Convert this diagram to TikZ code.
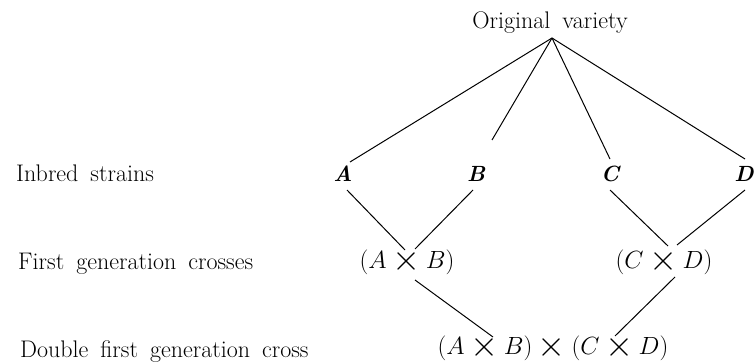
\documentclass[tikz,border=0pt]{standalone}
\usepackage{graphicx}
\newcommand\bigx{\mathbin{\vcenter{\hbox{\scalebox{1.45}{$\times$}}}}}
\newcommand\labfont{\fontsize{24}{28}\selectfont\spaceskip=12pt plus 3pt minus 2pt\relax}
\tikzset{
  lbl/.style={anchor=base west, inner sep=0pt},
  strain/.style={anchor=base, inner sep=0pt, font=\fontsize{22}{26}\selectfont\bfseries\itshape},
  crossn/.style={anchor=base, inner sep=0pt},
  link/.style={line width=1pt}
}
\begin{document}
\begin{tikzpicture}[x=1pt,y=-1pt, every node/.style={font=\labfont}]
\useasboundingbox (0,0) rectangle (754,363);
\node[crossn] (orig) at (550,29) {Original variety};
\node[lbl] (l1) at (16,182) {Inbred strains};
\node[lbl] (l2) at (18,269) {First generation crosses};
\node[lbl] (l3) at (20,357) {Double first generation cross};
\node[strain] (A) at (343,182) {A};
\node[strain] (B) at (476,182) {B};
\node[strain] (C) at (610,182) {C};
\node[strain] (D) at (744,182) {D};
\node[crossn] (ab) at (407,268) {$(A\bigx B)$};
\node[crossn] (cd) at (664,268) {$(C\bigx D)$};
\node[crossn] (dbl) at (553,354) {$(A\bigx B)\bigx(C\bigx D)$};
\draw[link] ([shift={(2,9)}]orig.base) -- ([shift={(7,-20)}]A.base);
\draw[link] ([shift={(2,9)}]orig.base) -- ([shift={(16,-42)}]B.base);
\draw[link] ([shift={(2,9)}]orig.base) -- ([shift={(0,-23)}]C.base);
\draw[link] ([shift={(2,9)}]orig.base) -- ([shift={(1,-23)}]D.base);
\draw[link] ([shift={(4,8)}]A.base) -- ([shift={(-2,-18)}]ab.base);
\draw[link] ([shift={(-3,8)}]B.base) -- ([shift={(8,-19)}]ab.base);
\draw[link] ([shift={(0,8)}]C.base) -- ([shift={(4,-22)}]cd.base);
\draw[link] ([shift={(1,8)}]D.base) -- ([shift={(13,-23)}]cd.base);
\draw[link] ([shift={(8,12)}]ab.base) -- ([shift={(-60,-17)}]dbl.base);
\draw[link] ([shift={(11,9)}]cd.base) -- ([shift={(62,-18)}]dbl.base);
\end{tikzpicture}
\end{document}
